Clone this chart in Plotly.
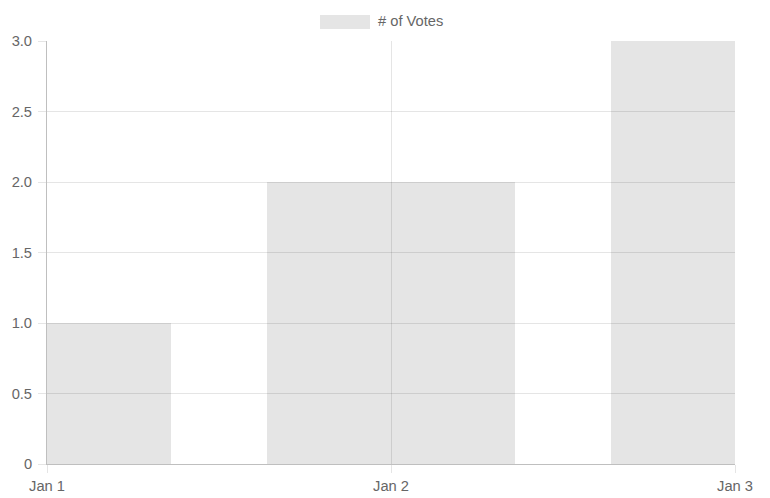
import plotly.graph_objects as go

dates = ["2024-01-01", "2024-01-02", "2024-01-03"]
date_labels = ["Jan 1", "Jan 2", "Jan 3"]
votes = [1, 2, 3]
series_name = "# of Votes"
y_ticks = [0, 0.5, 1.0, 1.5, 2.0, 2.5, 3.0]
y_tick_labels = ["0", "0.5", "1.0", "1.5", "2.0", "2.5", "3.0"]

DAY_MS = 86400000
bar_fill = "rgba(0,0,0,0.1)"
grid = "rgba(0,0,0,0.1)"
font = dict(family="Liberation Sans, Arial, Helvetica, sans-serif", size=14.7, color="#666")

fig = go.Figure()
fig.add_trace(go.Bar(
    x=dates, y=votes, name=series_name,
    width=[0.72 * DAY_MS] * len(dates),
    marker=dict(color=bar_fill, line=dict(width=0)),
    showlegend=False,
))

# page body has an 8px default margin, so the figure is sized/offset to compensate
fig.update_layout(
    width=762, height=490,
    margin=dict(l=39, r=35, t=33, b=34, autoexpand=False),
    paper_bgcolor="white", plot_bgcolor="white",
    font=font,
    xaxis=dict(
        type="date", range=[dates[0], dates[-1]],
        tickvals=dates, ticktext=date_labels,
        showgrid=True, gridcolor=grid, gridwidth=1,
        ticks="outside", ticklen=8, tickcolor=grid,
        showline=True, linecolor="rgba(0,0,0,0.25)", linewidth=1,
        zeroline=False, tickfont=font,
    ),
    yaxis=dict(
        range=[0, 3], tickvals=y_ticks, ticktext=y_tick_labels,
        showgrid=True, gridcolor=grid, gridwidth=1,
        ticks="outside", ticklen=8, tickcolor=grid,
        showline=True, linecolor="rgba(0,0,0,0.25)", linewidth=1,
        zeroline=False, tickfont=font, ticklabelstandoff=3,
    ),
    bargap=0,
)

# Legend (Chart.js style wide box + label)
fig.add_shape(type="rect", xref="paper", yref="paper",
              x0=(320 - 47) / 688, x1=(370 - 47) / 688,
              y0=(464 - 29) / 423, y1=(464 - 15) / 423,
              fillcolor=bar_fill, line=dict(width=0))
fig.add_annotation(xref="paper", yref="paper",
                   x=(376 - 47) / 688, y=(464 - 21.5) / 423,
                   xanchor="left", yanchor="middle",
                   text=series_name, showarrow=False, font=font)

fig.write_html("out.html")
